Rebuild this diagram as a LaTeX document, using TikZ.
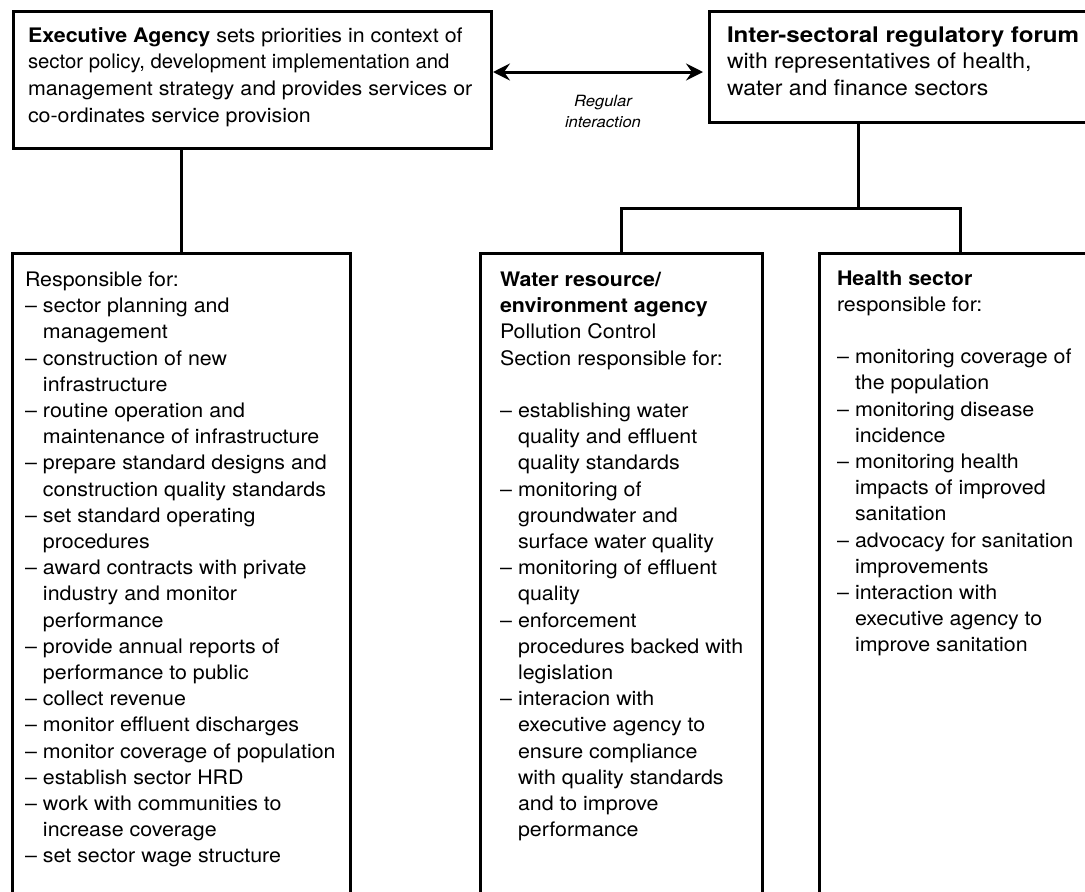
\documentclass[tikz,border=0pt]{standalone}
\usepackage{fontspec}
\usepackage{graphicx}
\setmainfont{TeX Gyre Heros}[FakeStretch=1.07]
\usetikzlibrary{arrows.meta}
\newcommand\itm{\makebox[18pt][l]{–}}
\newcommand\cnt{\hspace*{18pt}}
\newcommand\blk[4]{\parbox[t]{#1}{\raggedright\fontsize{#4}{#2}\selectfont #3}}
\begin{document}
\begin{tikzpicture}[x=1pt,y=-1pt,
  box/.style={draw, line width=3pt, inner sep=0pt, outer sep=0pt, anchor=north west},
  txt/.style={anchor=base west, inner sep=0pt, outer sep=0pt},
  conn/.style={line width=3pt},
  twoway/.style={line width=3pt, {Stealth[length=17pt,width=17pt,inset=6pt]}-{Stealth[length=17pt,width=17pt,inset=6pt]}},
  lbl/.style={align=center, inner sep=0pt, font=\itshape\fontsize{15.5}{21}\selectfont}]
\useasboundingbox (0,0) rectangle (1085,892);
\fill[white] (0,0) rectangle (1085,892);
\clip (0,0) rectangle (1085,892);

% boxes
\node[box, minimum width=478pt, minimum height=137pt] (exec) at (13,11) {};
\node[box, minimum width=392pt, minimum height=111pt] (forum) at (709,11) {};
\node[box, minimum width=338pt, minimum height=680pt] (left) at (12,253) {};
\node[box, minimum width=282pt, minimum height=680pt] (water) at (480,253) {};
\node[box, minimum width=282pt, minimum height=680pt] (health) at (819,253) {};

% texts
\node[txt] (exectxt) at (28,42) {\blk{460pt}{26.7pt}{\textbf{Executive Agency} sets priorities in context of\\
\scalebox{0.95}[1]{sector policy, development implementation and}\\
management strategy and provides services or\\
co-ordinates service provision}{20}};

\node[txt] (forumtxt) at (727,42) {\blk{400pt}{26.7pt}{\scalebox{1.05}[1]{\textbf{Inter-sectoral regulatory forum}}\\
with representatives of health,\\
water and finance sectors}{21.5}};

\node[txt] (lefttxt) at (25,286.5) {\blk{330pt}{26.2pt}{Responsible for:\\
\itm sector planning and\\
\cnt management\\
\itm construction of new\\
\cnt infrastructure\\
\itm routine operation and\\
\cnt maintenance of infrastructure\\
\itm prepare standard designs and\\
\cnt construction quality standards\\
\itm set standard operating\\
\cnt procedures\\
\itm award contracts with private\\
\cnt industry and monitor\\
\cnt performance\\
\itm provide annual reports of\\
\cnt performance to public\\
\itm collect revenue\\
\itm monitor effluent discharges\\
\itm monitor coverage of population\\
\itm establish sector HRD\\
\itm work with communities to\\
\cnt increase coverage\\
\itm set sector wage structure}{20}};

\node[txt] (watertxt) at (500,286.5) {\blk{270pt}{26.2pt}{\textbf{Water resource/}\\
\textbf{environment agency}\\
Pollution Control\\
Section responsible for:\\
\mbox{}\\
\itm establishing water\\
\cnt quality and effluent\\
\cnt quality standards\\
\itm monitoring of\\
\cnt groundwater and\\
\cnt surface water quality\\
\itm monitoring of effluent\\
\cnt quality\\
\itm enforcement\\
\cnt procedures backed with\\
\cnt legislation\\
\itm interacion with\\
\cnt executive agency to\\
\cnt ensure compliance\\
\cnt with quality standards\\
\cnt and to improve\\
\cnt performance}{20}};

\node[txt] (healthtxt) at (837,285) {\blk{270pt}{26.2pt}{\textbf{Health sector}\\
responsible for:\\
\mbox{}\\
\itm monitoring coverage of\\
\cnt the population\\
\itm monitoring disease\\
\cnt incidence\\
\itm monitoring health\\
\cnt impacts of improved\\
\cnt sanitation\\
\itm advocacy for sanitation\\
\cnt improvements\\
\itm interaction with\\
\cnt executive agency to\\
\cnt improve sanitation}{20}};

% connectors
\draw[twoway, shorten <=2pt, shorten >=6pt] (exec.east |- 0,72) -- (forum.west |- 0,72);
\node[lbl] (reg) at (603,111) {Regular\\interaction};

\coordinate (fj) at (858,208);
\draw[conn] (left.north) -- (left.north |- exec.south);
\draw[conn] (forum.south -| fj) -- (fj);
\draw[conn] (water.north) |- (health.north |- fj) -- (health.north);
\end{tikzpicture}
\end{document}
